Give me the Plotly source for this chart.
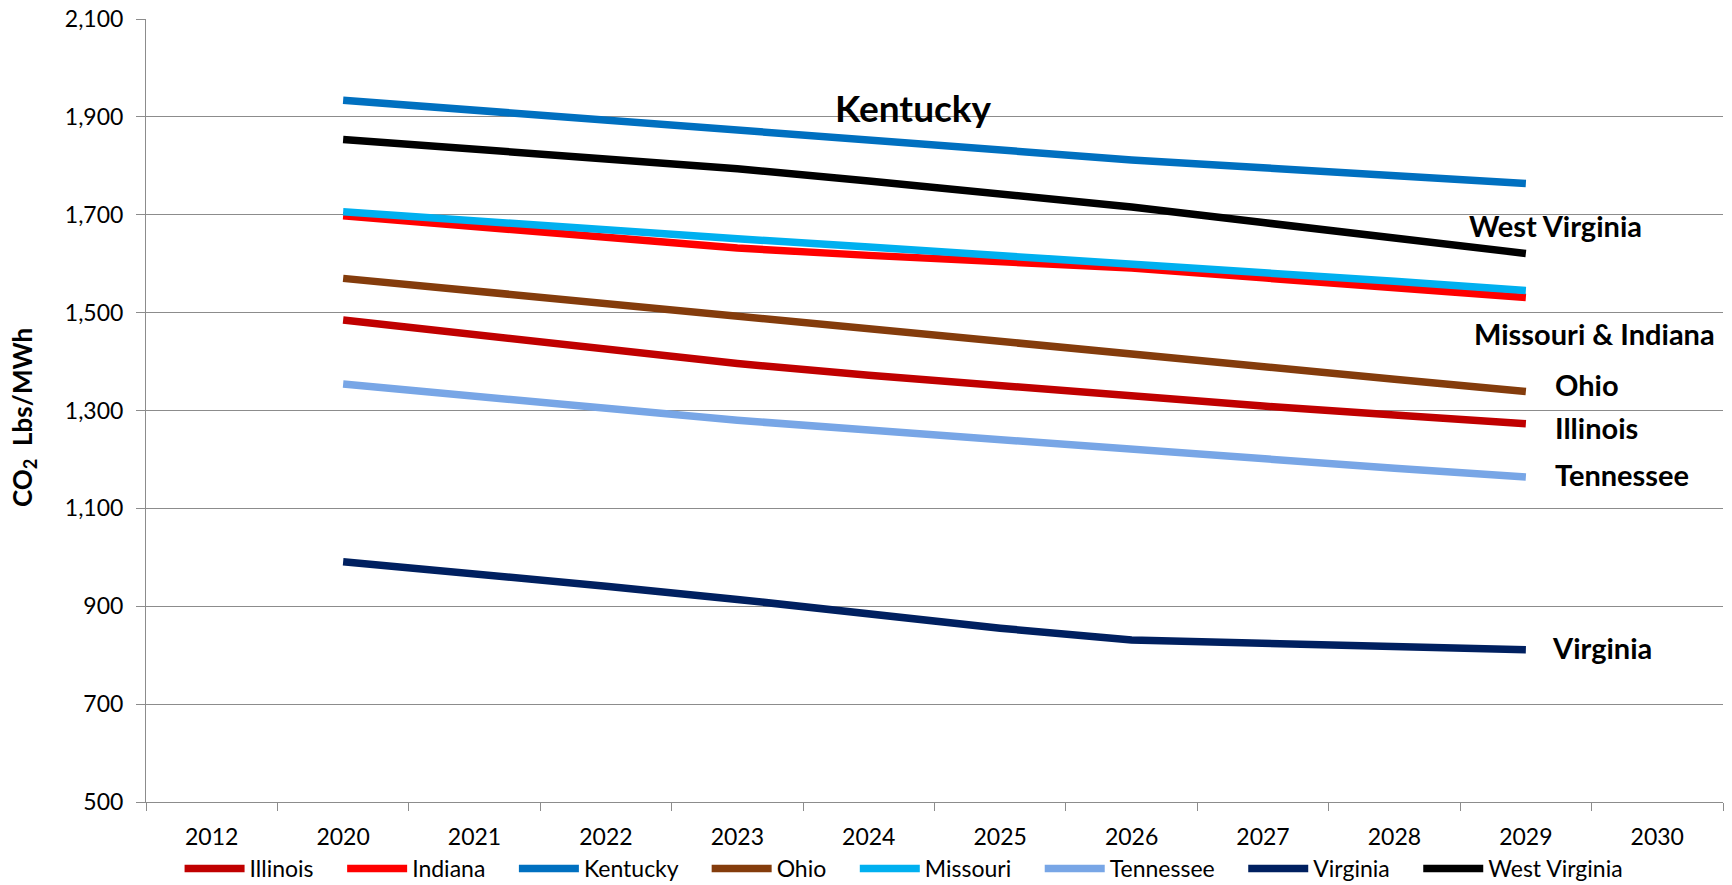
import plotly.graph_objects as go

# Category axis (2012 and 2030 are shown as empty slots)
categories = ["2012", "2020", "2021", "2022", "2023", "2024",
              "2025", "2026", "2027", "2028", "2029", "2030"]
years = ["2020", "2021", "2022", "2023", "2024",
         "2025", "2026", "2027", "2028", "2029"]

# CO2 emission rates, lbs/MWh
illinois = [1485, 1455, 1425, 1396, 1372, 1350, 1328, 1309, 1291, 1273]
indiana = [1698, 1675, 1653, 1632, 1617, 1603, 1591, 1571, 1551, 1531]
kentucky = [1934, 1914, 1893, 1872, 1852, 1832, 1812, 1796, 1780, 1764]
ohio = [1570, 1544, 1517, 1491, 1466, 1441, 1416, 1390, 1364, 1339]
missouri = [1706, 1687, 1669, 1651, 1634, 1617, 1600, 1582, 1564, 1545]
tennessee = [1354, 1329, 1304, 1280, 1260, 1240, 1220, 1201, 1182, 1164]
virginia = [991, 967, 941, 914, 884, 855, 831, 824, 817, 811]
west_virginia = [1854, 1834, 1814, 1794, 1769, 1743, 1716, 1684, 1652, 1621]

series = [
    ("Illinois", illinois, "#C00000"),
    ("Indiana", indiana, "#FF0000"),
    ("Kentucky", kentucky, "#0070C0"),
    ("Ohio", ohio, "#843C0C"),
    ("Missouri", missouri, "#00B0F0"),
    ("Tennessee", tennessee, "#78A6E6"),
    ("Virginia", virginia, "#002060"),
    ("West Virginia", west_virginia, "#000000"),
]

y_ticks = [500, 700, 900, 1100, 1300, 1500, 1700, 1900, 2100]

FONT = "Lato"
GRID = "#8C8C8C"
LEGEND_PAD = "&nbsp;" * 4

fig = go.Figure()
for name, values, color in series:
    fig.add_trace(go.Scatter(
        x=years, y=values, name=name + LEGEND_PAD, mode="lines",
        line=dict(color=color, width=7.5),
    ))

# Series name labels beside the lines
labels = [
    ("Kentucky", 0.4870, 1920, 37, "center"),
    ("West Virginia", 0.8374, 1679, 29, "left"),
    ("Missouri & Indiana", 0.8406, 1458, 29, "left"),
    ("Ohio", 0.8920, 1353, 29, "left"),
    ("Illinois", 0.8920, 1265, 29, "left"),
    ("Tennessee", 0.8920, 1169, 29, "left"),
    ("Virginia", 0.8900, 816, 29, "left"),
]
for text, xp, yv, size, anchor in labels:
    fig.add_annotation(
        x=xp, xref="paper", y=yv, yref="y", text=f"<b>{text}</b>",
        showarrow=False, xanchor=anchor, yanchor="middle",
        font=dict(family=FONT, size=size, color="#000000"),
    )

# Rotated y-axis title
fig.add_annotation(
    x=-0.0774, xref="paper", y=0.4917, yref="paper",
    text="<b>CO<sub>2</sub>&nbsp;&nbsp;Lbs/MWh</b>", textangle=-90,
    showarrow=False, xanchor="center", yanchor="middle",
    font=dict(family=FONT, size=26, color="#000000"),
)

fig.update_layout(
    width=1732, height=885,
    margin=dict(l=146, r=9, t=19, b=83, autoexpand=False),
    paper_bgcolor="white", plot_bgcolor="white",
    font=dict(family=FONT, size=23, color="#000000"),
    showlegend=True,
    legend=dict(
        orientation="h", x=0.488, xanchor="center", y=-0.085, yanchor="middle",
        font=dict(family=FONT, size=23, color="#000000"),
        bgcolor="rgba(0,0,0,0)", tracegroupgap=0, itemwidth=60,
    ),
    xaxis=dict(
        type="category", categoryorder="array", categoryarray=categories,
        range=[-0.5, len(categories) - 0.5],
        tickson="boundaries", ticks="outside", ticklen=8, tickcolor=GRID,
        showgrid=False, showline=True, linecolor=GRID, linewidth=1,
        tickfont=dict(family=FONT, size=23), zeroline=False,
        ticklabelstandoff=14,
    ),
    yaxis=dict(
        range=[500, 2100], tickvals=y_ticks, tickformat=",d",
        ticks="outside", ticklen=9, tickcolor=GRID,
        showgrid=True, gridcolor=GRID, gridwidth=1,
        showline=True, linecolor=GRID, linewidth=1, zeroline=False,
        tickfont=dict(family=FONT, size=23),
        ticklabelstandoff=8,
    ),
)

fig.write_html("out.html")
